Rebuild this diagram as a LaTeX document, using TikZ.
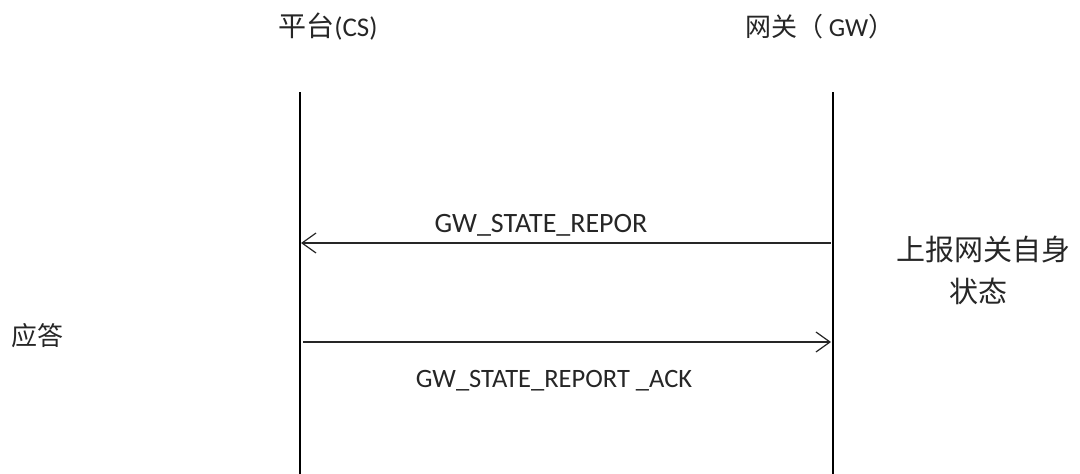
\documentclass[tikz,border=0pt]{standalone}
\usepackage{fontspec}
\setmainfont{Carlito}
\newfontfamily\cjk{Noto Sans CJK SC}
\usetikzlibrary{arrows.meta}
\begin{document}
\begin{tikzpicture}[x=1pt,y=-1pt,
  lifeline/.style={line width=1.3pt,black},
  msg/.style={line width=1.2pt,black!85,-{Straight Barb[length=14pt,width=20pt,line width=1.2pt]}},
  lbl/.style={font=\fontsize{28}{32}\selectfont,inner sep=0pt,text=black!85},
  zh/.style={font=\cjk\fontsize{29}{34}\selectfont,inner sep=0pt,text=black!85}]
\useasboundingbox (0,0) rectangle (1080,474);
\node[zh,font=\cjk\fontsize{28}{32}\selectfont] (cs) at (328,27) {平台\textrm{\fontsize{27}{32}\selectfont(CS)}};
\node[zh,font=\cjk\fontsize{26}{32}\selectfont] (gw) at (820,27) {网关（\hspace{5pt}\textrm{\fontsize{26}{32}\selectfont GW}）};
\coordinate (csT) at (300,92);
\coordinate (csB) at (300,474);
\coordinate (gwT) at (833,92);
\coordinate (gwB) at (833,474);
\draw[lifeline] (csT) -- (csB);
\draw[lifeline] (gwT) -- (gwB);
\coordinate (m1s) at (831,243);
\coordinate (m1e) at (301,243);
\draw[msg] (m1s) -- (m1e);
\node[lbl] (l1) at (541,225) {GW\_STATE\_REPOR};
\coordinate (m2s) at (303,342);
\coordinate (m2e) at (831,342);
\draw[msg] (m2s) -- (m2e);
\node[lbl,font=\fontsize{26.5}{32}\selectfont] (l2) at (554,381) {GW\_STATE\_REPORT \_ACK};
\node[zh] (n1) at (983,250) {上报网关自身};
\node[zh] (n2) at (978,291) {状态};
\node[zh,font=\cjk\fontsize{26}{32}\selectfont] (n3) at (38,336) {应答};
\end{tikzpicture}
\end{document}
